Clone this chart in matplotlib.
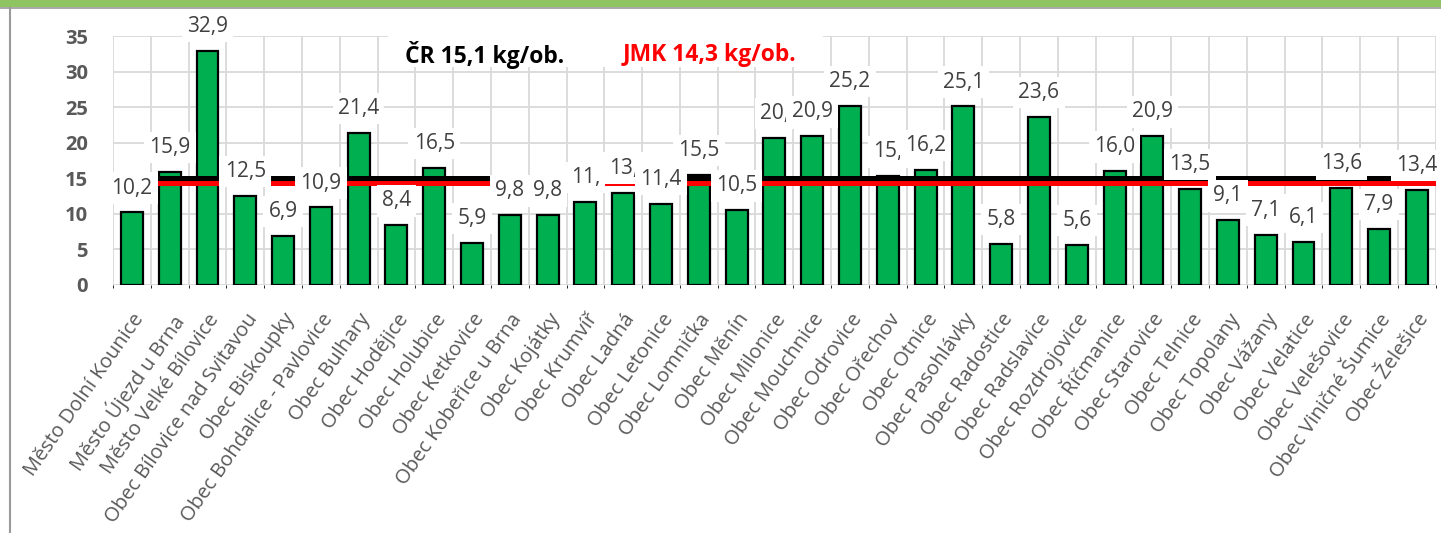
"""
Odpad na obyvatele podle obcí (kg/ob.) se srovnáním s průměrem ČR a JMK.

Output: out.png
"""

import matplotlib
matplotlib.use("Agg")
import matplotlib.pyplot as plt
from matplotlib.patches import Rectangle
from matplotlib.ticker import FixedLocator
import numpy as np

# ---------------------------------------------------------------------------
# Data
# ---------------------------------------------------------------------------

OBCE = [
    "Město Dolní Kounice", "Město Újezd u Brna", "Město Velké Bílovice",
    "Obec Bílovice nad Svitavou", "Obec Biskoupky", "Obec Bohdalice - Pavlovice",
    "Obec Bulhary", "Obec Hodějice", "Obec Holubice", "Obec Ketkovice",
    "Obec Kobeřice u Brna", "Obec Kojátky", "Obec Krumvíř", "Obec Ladná",
    "Obec Letonice", "Obec Lomnička", "Obec Měnín", "Obec Milonice",
    "Obec Mouchnice", "Obec Odrovice", "Obec Ořechov", "Obec Otnice",
    "Obec Pasohlávky", "Obec Radostice", "Obec Radslavice", "Obec Rozdrojovice",
    "Obec Říčmanice", "Obec Starovice", "Obec Telnice", "Obec Topolany",
    "Obec Vážany", "Obec Velatice", "Obec Velešovice", "Obec Viničné Šumice",
    "Obec Želešice",
]

KG_NA_OB = [
    10.2, 15.9, 32.9, 12.5, 6.9, 10.9, 21.4, 8.4, 16.5, 5.9,
    9.8, 9.8, 11.7, 13.0, 11.4, 15.5, 10.5, 20.7, 20.9, 25.2,
    15.3, 16.2, 25.1, 5.8, 23.6, 5.6, 16.0, 20.9, 13.5, 9.1,
    7.1, 6.1, 13.6, 7.9, 13.4,
]

# popisky tak, jak je Excel zobrazil (některé oříznuté)
POPISKY = [
    "10,2", "15,9", "32,9", "12,5", "6,9", "10,9", "21,4", "8,4", "16,5", "5,9",
    "9,8", "9,8", "11,", "13,", "11,4", "15,5", "10,5", "20,", "20,9", "25,2",
    "15,", "16,2", "25,1", "5,8", "23,6", "5,6", "16,0", "20,9", "13,5", "9,1",
    "7,1", "6,1", "13,6", "7,9", "13,4",
]

CR_PRUMER = 15.1
JMK_PRUMER = 14.3
Y_TICKS = [0, 5, 10, 15, 20, 25, 30, 35]

# ---------------------------------------------------------------------------
# Style
# ---------------------------------------------------------------------------

plt.rcParams.update({
    "font.family": ["Open Sans", "DejaVu Sans"],
    "figure.dpi": 100,
})

GREEN = "#00B050"
GRID = "#D9D9D9"
TEXT = "#595959"


def main() -> None:
    fig = plt.figure(figsize=(14.41, 5.33))
    ax = fig.add_axes([0.0784, 0.4653, 0.918, 0.467])

    x = np.arange(len(OBCE))
    ax.bar(x, KG_NA_OB, width=0.58, color=GREEN, edgecolor="black",
           linewidth=1.6, zorder=2)

    # průměry
    ax.axhline(CR_PRUMER, color="black", linewidth=3.6, zorder=3)
    ax.axhline(JMK_PRUMER, color="red", linewidth=3.6, zorder=3.1)

    # datové popisky s bílým pozadím
    for xi, val, lab in zip(x, KG_NA_OB, POPISKY):
        ax.annotate(lab, (xi, val), xytext=(0, 10), textcoords="offset points",
                    ha="center", va="bottom", fontsize=15, color="#404040",
                    bbox=dict(boxstyle="square,pad=0.25", fc="white", ec="none"),
                    zorder=4)

    # nadpisy průměrů
    ax.add_patch(Rectangle((0.208, 0.875), 0.329, 0.15, transform=ax.transAxes,
                           facecolor="white", edgecolor="none", clip_on=False,
                           zorder=3.5))
    ax.text(0.2207, 0.924, "ČR 15,1 kg/ob.", transform=ax.transAxes,
            ha="left", va="center", fontsize=16.5, fontweight="bold",
            color="black", zorder=5)
    ax.text(0.385, 0.924, "JMK 14,3 kg/ob.", transform=ax.transAxes,
            ha="left", va="center", fontsize=16.5, fontweight="bold",
            color="red", zorder=5)

    ax.set_xlim(-0.5, len(OBCE) - 0.5)
    ax.set_ylim(0, 35)
    ax.set_yticks(Y_TICKS)
    ax.set_xticks(x)
    ax.set_xticklabels(OBCE, rotation=55, ha="right", rotation_mode="anchor",
                       fontsize=14.5, color=TEXT)
    for lab in ax.get_yticklabels():
        lab.set_fontweight("bold")
        lab.set_fontsize(14.5)
        lab.set_color(TEXT)
    ax.tick_params(axis="both", length=0)
    ax.tick_params(axis="y", pad=18)
    ax.tick_params(axis="x", pad=18)

    ax.xaxis.set_minor_locator(FixedLocator(np.arange(-0.5, len(OBCE), 1)))
    ax.grid(axis="y", which="major", color=GRID, linewidth=1.3, zorder=0)
    ax.grid(axis="x", which="minor", color=GRID, linewidth=1.3, zorder=0)
    ax.set_axisbelow(True)
    for side in ax.spines.values():
        side.set_visible(False)

    # rámeček jako ve výřezu z dokumentu
    fig.patches.append(Rectangle((0, 1 - 7 / 533), 1, 7 / 533,
                                 transform=fig.transFigure, facecolor="#8FC463",
                                 edgecolor="none"))
    fig.lines.append(plt.Line2D([0, 1], [1 - 8 / 533] * 2,
                                transform=fig.transFigure, color="#9A9A9A", lw=1.2))
    fig.lines.append(plt.Line2D([10 / 1441] * 2, [0, 1 - 8 / 533],
                                transform=fig.transFigure, color="#9A9A9A", lw=1.5))

    fig.savefig("out.png", dpi=100, facecolor="white")
    plt.close(fig)


if __name__ == "__main__":
    main()
